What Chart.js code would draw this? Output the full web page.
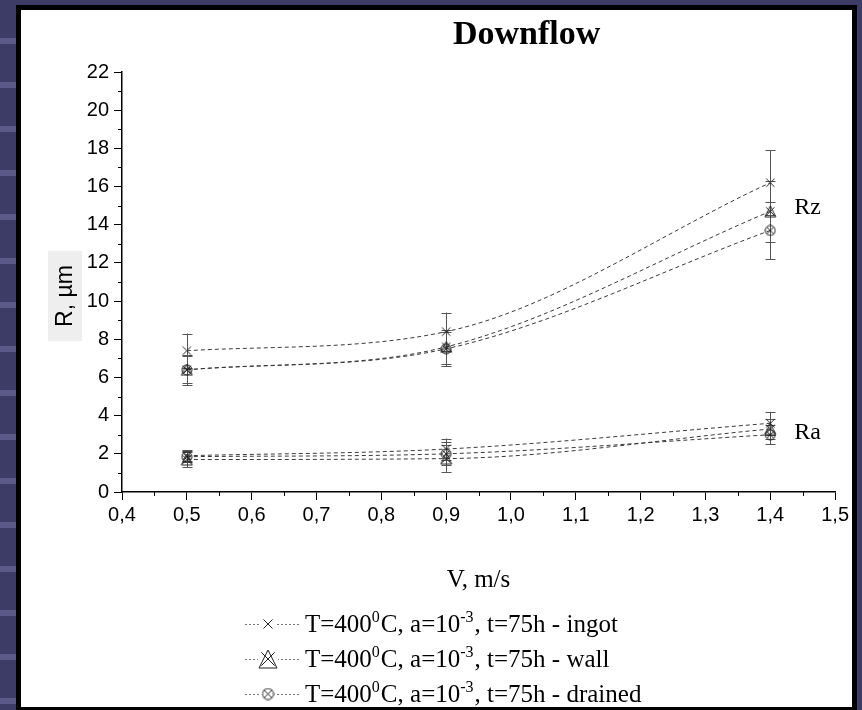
<!DOCTYPE html>
<html>
<head>
<meta charset="utf-8">
<script src="https://cdn.jsdelivr.net/npm/chart.js@4.4.1/dist/chart.umd.min.js"></script>
<style>
  html, body { margin: 0; padding: 0; }
  body {
    width: 862px; height: 710px; overflow: hidden; position: relative;
    background: #3c3c67;
  }
  #stripes {
    position: absolute; left: 0; top: 0; width: 16px; height: 710px;
    background: repeating-linear-gradient(to bottom, #3c3c67 0px, #3c3c67 38px, #5a5a88 38px, #5a5a88 44px);
  }
  #panel {
    position: absolute; left: 16px; top: 5px;
    width: 831px; height: 697px;
    border: 5px solid #000; border-bottom-width: 3px;
    background: #fff;
  }
  canvas { display: block; }
</style>
</head>
<body>
<div id="stripes"></div>
<div id="panel"><canvas id="roughness" width="831" height="697"></canvas></div>
<script>
// flow speed, m/s
var speeds = [0.5, 0.9, 1.4];

// Rz, um
var rzIngot      = [7.4, 8.4, 16.2];
var rzIngotErr   = [0.9, 1.0, 1.7];
var rzWall       = [6.4, 7.6, 14.7];
var rzWallErr    = [0.7, 0.9, 1.6];
var rzDrained    = [6.4, 7.5, 13.7];
var rzDrainedErr = [0.8, 0.9, 1.5];

// Ra, um
var raIngot      = [1.9, 2.25, 3.6];
var raIngotErr   = [0.3, 0.55, 0.6];
var raWall       = [1.7, 1.75, 3.3];
var raWallErr    = [0.4, 0.7, 0.5];
var raDrained    = [1.85, 2.0, 3.0];
var raDrainedErr = [0.3, 0.6, 0.5];

var sampleNames = ['ingot', 'wall', 'drained'];

var SANS = '"Liberation Sans", Arial, sans-serif';
var SERIF = '"Liberation Serif", "Times New Roman", serif';

function makeMarker(kind, size)
{
  var c = document.createElement('canvas');
  c.width = size; c.height = size;
  var g = c.getContext('2d');
  g.strokeStyle = '#222';
  g.lineWidth = 1;
  var m = size / 2, r = size / 2 - 1;
  var k = r * 0.75;
  g.beginPath();
  g.moveTo(m - k, m - k); g.lineTo(m + k, m + k);
  g.moveTo(m + k, m - k); g.lineTo(m - k, m + k);
  g.stroke();
  if (kind == 'wall') {
    g.beginPath();
    g.moveTo(m, 1); g.lineTo(size - 1, size - 1); g.lineTo(1, size - 1); g.closePath();
    g.stroke();
  }
  if (kind == 'drained') {
    g.beginPath();
    g.arc(m, m, r, 0, Math.PI * 2);
    g.stroke();
  }
  return c;
}

var markers = {
  ingot: makeMarker('ingot', 13),
  wall: makeMarker('wall', 13),
  drained: makeMarker('drained', 12)
};
var legendMarkers = {
  ingot: makeMarker('ingot', 14),
  wall: makeMarker('wall', 20),
  drained: makeMarker('drained', 13)
};

function series(vals, errs, kind)
{
  return {
    data: speeds.map(function(x, i) { return { x: x, y: vals[i] }; }),
    errors: errs,
    pointStyle: markers[kind],
    pointRadius: 6,
    borderColor: '#3a3a3a',
    borderWidth: 1,
    borderDash: [4, 3],
    cubicInterpolationMode: 'monotone',
    fill: false
  };
}

var errorBars = {
  id: 'errorBars',
  beforeDatasetsDraw: function(chart) {
    var ctx = chart.ctx, xs = chart.scales.x, ys = chart.scales.y;
    ctx.save();
    ctx.strokeStyle = '#555';
    ctx.lineWidth = 1;
    chart.data.datasets.forEach(function(ds) {
      ds.data.forEach(function(p, i) {
        var px = Math.round(xs.getPixelForValue(p.x)) + 0.5;
        var top = ys.getPixelForValue(p.y + ds.errors[i]);
        var bot = ys.getPixelForValue(p.y - ds.errors[i]);
        ctx.beginPath();
        ctx.moveTo(px, top); ctx.lineTo(px, bot);
        ctx.moveTo(px - 5, Math.round(top) + 0.5); ctx.lineTo(px + 5, Math.round(top) + 0.5);
        ctx.moveTo(px - 5, Math.round(bot) + 0.5); ctx.lineTo(px + 5, Math.round(bot) + 0.5);
        ctx.stroke();
      });
    });
    ctx.restore();
  }
};

var decorations = {
  id: 'decorations',
  afterDraw: function(chart) {
    var ctx = chart.ctx, xs = chart.scales.x, ys = chart.scales.y;
    var area = chart.chartArea;
    ctx.save();

    // minor ticks
    ctx.strokeStyle = '#000';
    ctx.lineWidth = 1;
    ctx.beginPath();
    for (var v = 0.45; v < 1.5; v += 0.1) {
      var px = Math.round(xs.getPixelForValue(v)) + 0.5;
      ctx.moveTo(px, area.bottom); ctx.lineTo(px, area.bottom + 4);
    }
    for (var w = 1; w < 22; w += 2) {
      var py = Math.round(ys.getPixelForValue(w)) + 0.5;
      ctx.moveTo(area.left, py); ctx.lineTo(area.left - 4, py);
    }
    ctx.stroke();

    // title
    ctx.fillStyle = '#000';
    ctx.textAlign = 'center';
    ctx.textBaseline = 'middle';
    ctx.font = 'bold 34px ' + SERIF;
    ctx.fillText('Downflow', (area.left + area.right) / 2 + 48, 25);

    // x axis title
    ctx.font = '25px ' + SERIF;
    ctx.fillText('V, m/s', (area.left + area.right) / 2, 570);

    // y axis title on grey box
    ctx.save();
    ctx.translate(44, 286);
    ctx.rotate(-Math.PI / 2);
    ctx.fillStyle = '#eeeeee';
    ctx.fillRect(-45, -17, 90, 34);
    ctx.fillStyle = '#000';
    ctx.font = '23px ' + SANS;
    ctx.fillText('R, \u00b5m', 0, 1);
    ctx.restore();

    // Rz / Ra labels
    ctx.textAlign = 'left';
    ctx.font = '24px ' + SERIF;
    var lx = xs.getPixelForValue(1.4) + 24;
    ctx.fillText('Rz', lx, ys.getPixelForValue(14.9));
    ctx.fillText('Ra', lx, ys.getPixelForValue(3.1));

    // legend
    sampleNames.forEach(function(name, i) {
      var y = 614 + i * 35;
      ctx.save();
      ctx.strokeStyle = '#777';
      ctx.lineWidth = 1;
      ctx.setLineDash([2, 2]);
      ctx.beginPath();
      ctx.moveTo(224, y + 0.5); ctx.lineTo(280, y + 0.5);
      ctx.stroke();
      ctx.restore();
      var mk = legendMarkers[name];
      ctx.fillStyle = '#fff';
      ctx.fillRect(247 - mk.width / 2, y - mk.height / 2, mk.width, mk.height);
      ctx.drawImage(mk, 247 - mk.width / 2, y - mk.height / 2);

      var parts = [['T=400', 0], ['0', 1], ['C, a=10', 0], ['-3', 1], [', t=75h - ' + name, 0]];
      var x = 284;
      ctx.fillStyle = '#000';
      ctx.textBaseline = 'alphabetic';
      parts.forEach(function(p) {
        ctx.font = (p[1] ? '16px ' : '25px ') + SERIF;
        ctx.fillText(p[0], x, y + (p[1] ? -2 : 8));
        x += ctx.measureText(p[0]).width + (p[1] ? 1 : 0);
      });
    });

    ctx.restore();
  }
};

var ctx = document.getElementById('roughness').getContext('2d');
new Chart(ctx, {
  type: 'line',
  data: {
    datasets: [
      series(rzIngot, rzIngotErr, 'ingot'),
      series(rzWall, rzWallErr, 'wall'),
      series(rzDrained, rzDrainedErr, 'drained'),
      series(raIngot, raIngotErr, 'ingot'),
      series(raWall, raWallErr, 'wall'),
      series(raDrained, raDrainedErr, 'drained')
    ]
  },
  options: {
    responsive: false,
    animation: false,
    layout: { padding: { top: 62, right: 15, left: 0, bottom: 0 } },
    plugins: { legend: { display: false }, title: { display: false }, tooltip: { enabled: false } },
    scales: {
      x: {
        type: 'linear', min: 0.4, max: 1.5,
        afterFit: function(s) { s.height = 215; },
        border: { color: '#000', width: 1.5 },
        grid: { drawOnChartArea: false, color: '#000', tickLength: 8 },
        ticks: {
          stepSize: 0.1, color: '#000', padding: 3, maxRotation: 0,
          font: { family: SANS, size: 20 },
          callback: function(v) { return v.toFixed(1).replace('.', ','); }
        }
      },
      y: {
        min: 0, max: 22,
        afterFit: function(s) { s.width = 101; },
        border: { color: '#000', width: 1.5 },
        grid: { drawOnChartArea: false, color: '#000', tickLength: 8 },
        ticks: {
          stepSize: 2, color: '#000', padding: 5,
          font: { family: SANS, size: 20 }
        }
      }
    }
  },
  plugins: [errorBars, decorations]
});
</script>
</body>
</html>
